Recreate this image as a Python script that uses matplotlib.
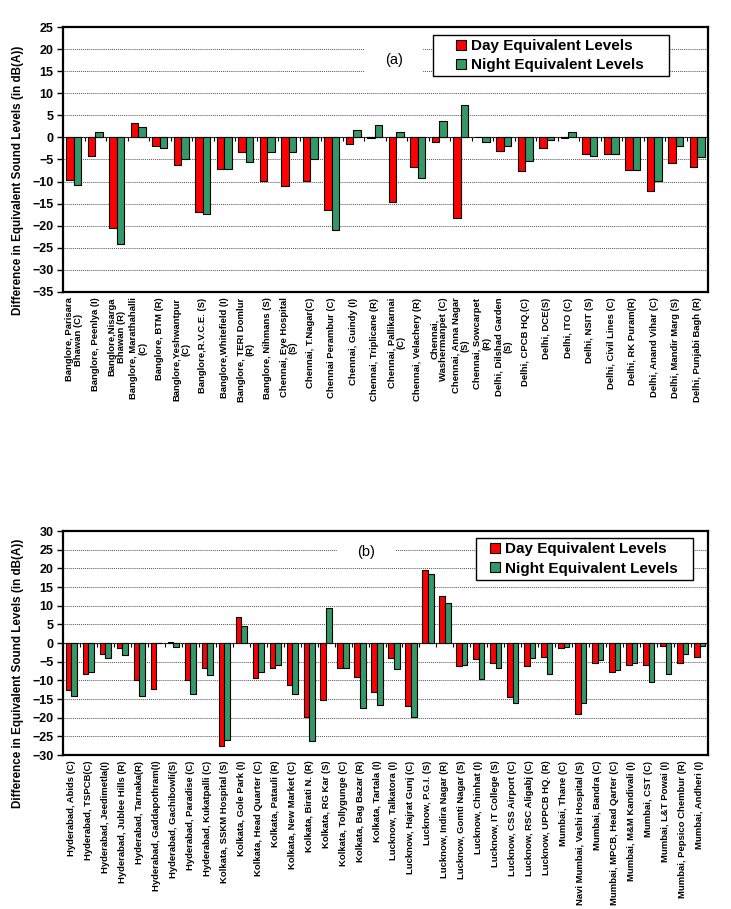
import matplotlib
matplotlib.use("Agg")
import matplotlib.pyplot as plt
from matplotlib.patches import Rectangle, Patch
import numpy as np

plt.rcParams['font.family'] = ['Liberation Sans', 'DejaVu Sans']

# ---------------- data (a) ----------------
labels_a = [
    "Banglore, Parisara\nBhawan (C)", "Banglore, Peenlya (I)", "Banglore,Nisarga\nBhawan (R)",
    "Banglore, Marathahalli\n(C)", "Banglore, BTM (R)", "Banglore,Yeshwantpur\n(C)",
    "Banglore,R.V.C.E. (S)", "Banglore,Whitefield (I)", "Banglore, TERI Domlur\n(R)",
    "Banglore, Nihmans (S)", "Chennai, Eye Hospital\n(S)", "Chennai, T.Nagar(C)",
    "Chennai Perambur (C)", "Chennai, Guindy (I)", "Chennai, Triplicane (R)",
    "Chennai, Pallikarnai\n(C)", "Chennai, Velachery (R)", "Chennai,\nWashermanpet (C)",
    "Chennai, Anna Nagar\n(S)", "Chennai, Sowcarpet\n(R)", "Delhi, Dilshad Garden\n(S)",
    "Delhi, CPCB HQ.(C)", "Delhi, DCE(S)", "Delhi, ITO (C)", "Delhi, NSIT (S)",
    "Delhi, Civil Lines (C)", "Delhi, RK Puram(R)", "Delhi, Anand Vihar (C)",
    "Delhi, Mandir Marg (S)", "Delhi, Punjabi Bagh (R)",
]
day_a = [-9.7, -4.2, -20.6, 3.2, -1.9, -6.3, -17.0, -7.2, -3.2, -9.9,
         -11.1, -9.9, -16.4, -1.4, -0.1, -14.6, -6.8, -1.0, -18.2, 0.0,
         -3.1, -7.6, -2.3, -0.2, -3.8, -3.8, -7.3, -12.2, -5.9, -6.8]
night_a = [-10.7, 1.3, -24.2, 2.3, -2.3, -5.0, -17.3, -7.1, -5.6, -3.4,
           -3.4, -4.9, -21.0, 1.7, 2.7, 1.3, -9.1, 3.8, 7.3, -1.0,
           -2.0, -5.3, -0.5, 1.2, -4.3, -3.8, -7.3, -9.9, -1.9, -4.4]

# ---------------- data (b) ----------------
labels_b = [
    "Hyderabad, Abids (C)", "Hyderabad, TSPCB(C)", "Hyderabad, Jeedimetla(I)",
    "Hyderabad, Jublee Hills (R)", "Hyderabad, Tarnaka(R)", "Hyderabad, Gaddapothram(I)",
    "Hyderabad, Gachibowli(S)", "Hyderabad, Paradise (C)", "Hyderabad, Kukatpalli (C)",
    "Kolkata, SSKM Hospital (S)", "Kolkata, Gole Park (I)", "Kolkata, Head Quarter (C)",
    "Kolkata, Patauli (R)", "Kolkata, New Market (C)", "Kolkata, Birati N. (R)",
    "Kolkata, RG Kar (S)", "Kolkata, Tollygunge (C)", "Kolkata, Bag Bazar (R)",
    "Kolkata, Tartala (I)", "Lucknow, Talkatora (I)", "Lucknow, Hajrat Gunj (C)",
    "Lucknow, P.G.I. (S)", "Lucknow, Indira Nagar (R)", "Lucknow, Gomti Nagar (S)",
    "Lucknow, Chinhat (I)", "Lucknow, IT College (S)", "Lucknow, CSS Airport (C)",
    "Lucknow, RSC Aligabj (C)", "Lucknow, UPPCB HQ. (R)", "Mumbai, Thane (C)",
    "Navi Mumbai, Vashi Hospital (S)", "Mumbai, Bandra (C)", "Mumbai, MPCB, Head Qarter (C)",
    "Mumbai, M&M Kandivali (I)", "Mumbai, CST (C)", "Mumbai, L&T Powai (I)",
    "Mumbai, Pepsico Chembur (R)", "Mumbai, Andheri (I)",
]
day_b = [-12.7, -8.4, -3.0, -1.4, -9.8, -12.2, 0.35, -9.8, -6.8, -27.7,
         6.9, -9.5, -6.8, -11.2, -19.7, -15.3, -6.7, -9.0, -13.2, -4.1,
         -16.8, 19.5, 12.5, -6.1, -4.4, -5.3, -14.5, -6.1, -3.7, -1.3,
         -18.9, -5.3, -7.8, -6.0, -6.0, -0.8, -5.4, -3.7]
night_b = [-14.1, -7.9, -4.1, -3.2, -14.3, 0.0, -1.2, -13.6, -8.7, -26.1,
           4.5, -7.7, -5.9, -13.6, -26.3, 9.3, -6.6, -17.4, -16.6, -7.0,
           -19.8, 18.4, 10.6, -5.9, -9.7, -6.6, -16.1, -3.9, -8.3, -1.2,
           -16.1, -4.5, -7.2, -5.4, -10.5, -8.3, -3.0, -0.8]

series_names = ["Day Equivalent Levels", "Night Equivalent Levels"]
colors = ["#FF0000", "#339966"]
ylabel = "Difference in Equivalent Sound Levels (in dB(A))"

W, H = 731, 909
fig = plt.figure(figsize=(W / 100, H / 100), dpi=100)


def px_axes(l, t, r, b):
    return fig.add_axes([l / W, 1 - b / H, (r - l) / W, (b - t) / H])


def draw(ax, labels, day, night, ylim, bw, tag, tagpos, tagbox, legbox, legpos, ylab_y):
    n = len(labels)
    x = np.arange(n)
    ax.bar(x - bw / 2, day, bw, color=colors[0], edgecolor='black', linewidth=0.8, zorder=3)
    ax.bar(x + bw / 2, night, bw, color=colors[1], edgecolor='black', linewidth=0.8, zorder=3)
    ax.set_xlim(-0.5, n - 0.5)
    ax.set_ylim(*ylim)
    ax.set_yticks(np.arange(ylim[0], ylim[1] + 1, 5))
    ax.set_axisbelow(True)
    ax.yaxis.grid(True, color='#555555', linestyle=(0, (1, 1)), linewidth=0.7)
    ax.set_xticks(x)
    ax.set_xticklabels(labels, rotation=90, fontsize=6.8, fontweight='bold',
                       multialignment='center', linespacing=1.05)
    ax.tick_params(axis='x', length=0, pad=4)
    ax.tick_params(axis='y', direction='out', length=4, width=1, labelsize=9, pad=3)
    for lab in ax.get_yticklabels():
        lab.set_fontweight('bold')
    for s in ax.spines.values():
        s.set_linewidth(1.6)
    ax.set_ylabel(ylabel, fontsize=8.4, fontweight='bold')
    ax.yaxis.set_label_coords(-0.0605, ylab_y)
    # zero axis with ticks at category boundaries
    loc0 = (0 - ylim[0]) / (ylim[1] - ylim[0])
    sec = ax.secondary_xaxis(loc0)
    sec.set_xticks(np.arange(n + 1) - 0.5)
    sec.xaxis.set_ticks_position('bottom')
    sec.tick_params(axis='x', direction='out', length=3, width=0.8, labelbottom=False,
                    labeltop=False)
    sec.spines['bottom'].set_linewidth(1.0)
    # tag with white background
    ax.add_patch(Rectangle((tagbox[0], tagbox[1]), tagbox[2], tagbox[3],
                           transform=ax.transAxes, facecolor='white', edgecolor='none', zorder=1.5))
    ax.text(tagpos[0], tagpos[1], tag, transform=ax.transAxes, fontsize=10.5,
            ha='center', va='center', zorder=2)
    # legend
    ax.add_patch(Rectangle((legbox[0], legbox[1]), legbox[2], legbox[3],
                           transform=ax.transAxes, facecolor='white', edgecolor='black',
                           linewidth=1.0, zorder=4))
    handles = [Patch(facecolor=c, edgecolor='black', linewidth=0.8) for c in colors]
    leg = ax.legend(handles, series_names, loc='upper left', bbox_to_anchor=legpos,
                    frameon=False, borderpad=0, borderaxespad=0, handlelength=0.65,
                    handleheight=0.65, handletextpad=0.35, labelspacing=0.36,
                    prop={'size': 11, 'weight': 'bold'})
    leg.set_zorder(5)


# top chart: axes pixel box
axA = px_axes(63, 27, 708, 292)
aw, ah = 645, 265
draw(axA, labels_a, day_a, night_a, (-35, 25), 0.35, "(a)",
     ((394 - 63) / aw, (292 - 60) / ah),
     ((365 - 63) / aw, (292 - 78) / ah, 58 / aw, 36 / ah),
     ((433 - 63) / aw, (292 - 76) / ah, 236 / aw, 41 / ah),
     ((456 - 63) / aw, (292 - 39) / ah), 0.42)

axB = px_axes(63, 531, 708, 755)
bw_, bh = 645, 224
draw(axB, labels_b, day_b, night_b, (-30, 30), 0.33, "(b)",
     ((366 - 63) / bw_, (755 - 552) / bh),
     ((337 - 63) / bw_, (755 - 561) / bh, 58 / bw_, 20 / bh),
     ((476 - 63) / bw_, (755 - 580) / bh, 217 / bw_, 42 / bh),
     ((490 - 63) / bw_, (755 - 542) / bh), 0.366)

fig.savefig("out.png", dpi=100)
